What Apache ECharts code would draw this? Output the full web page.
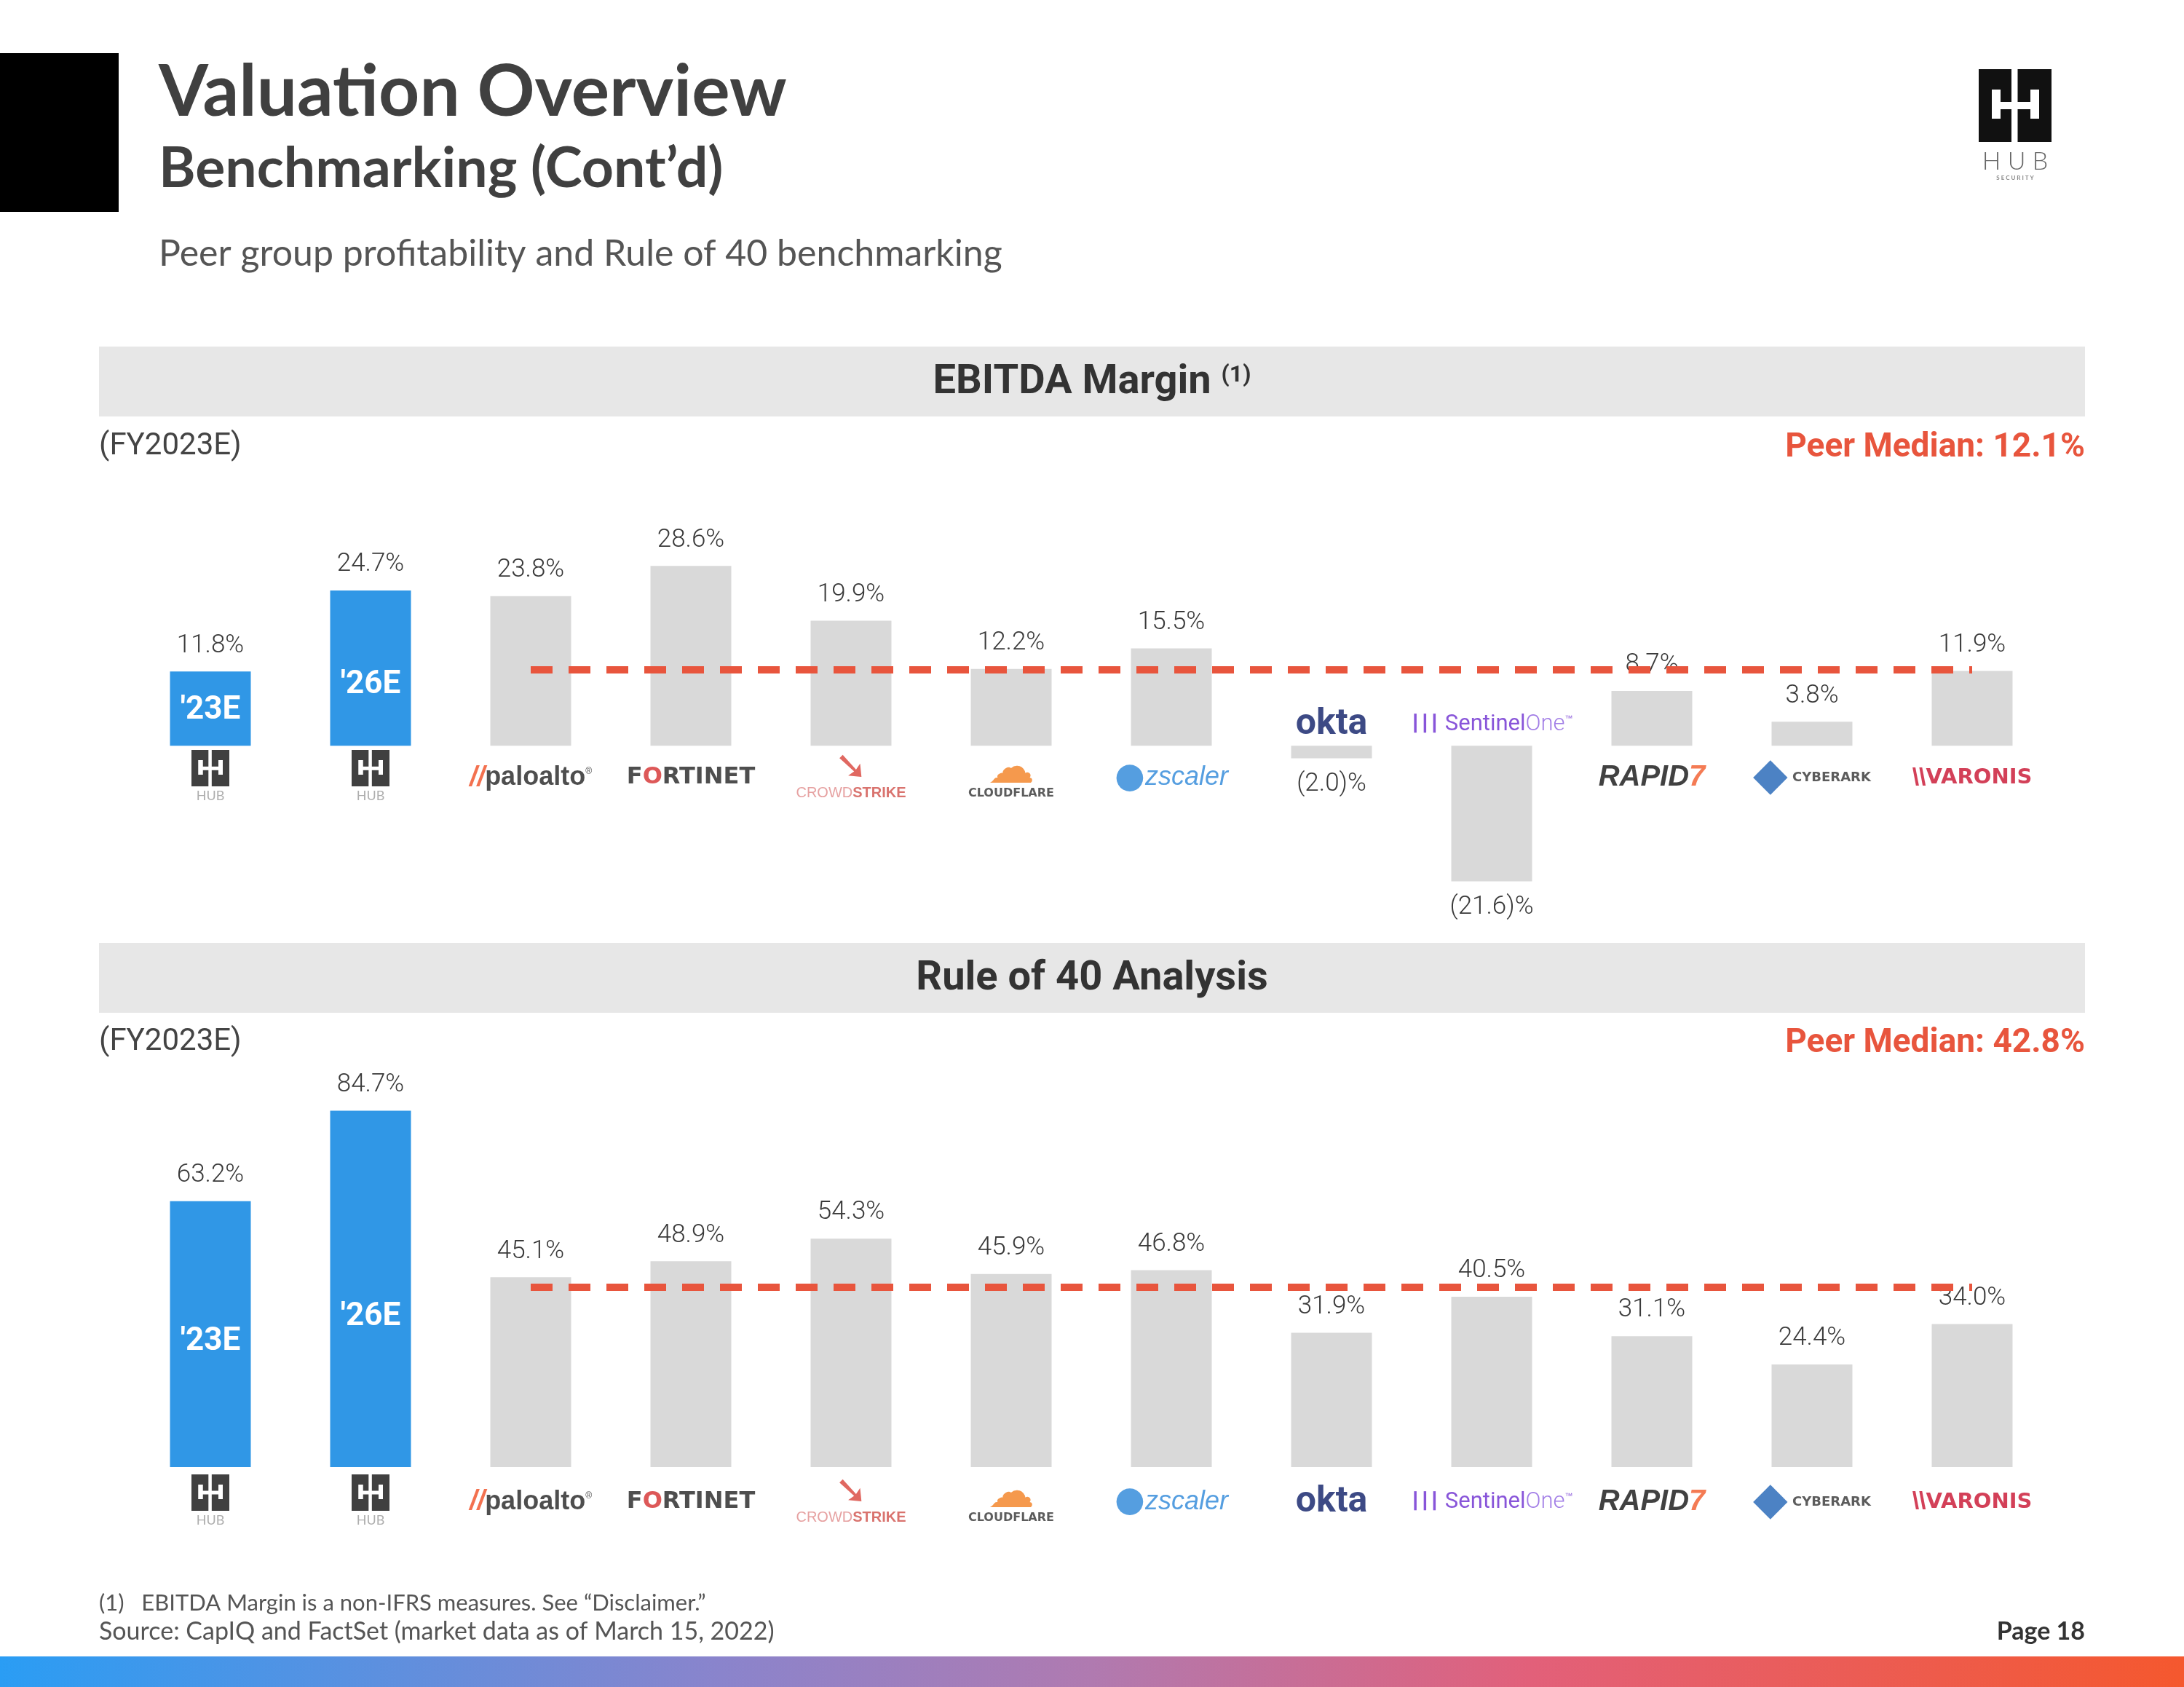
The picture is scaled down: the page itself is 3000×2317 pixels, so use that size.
<!DOCTYPE html>
<html><head><meta charset="utf-8">
<script src="https://cdn.jsdelivr.net/npm/echarts/dist/echarts.min.js"></script>
<style>html,body{margin:0;padding:0;background:#fff;}#chart{width:3000px;height:2317px;}</style>
</head><body><div id="chart"></div>
<script>
// ---- data ----
const categories = ['HUB 23E','HUB 26E','Palo Alto Networks','Fortinet','CrowdStrike','Cloudflare','Zscaler','Okta','SentinelOne','Rapid7','CyberArk','Varonis'];
const ebitdaMargin = [11.8, 24.7, 23.8, 28.6, 19.9, 12.2, 15.5, -2.0, -21.6, 8.7, 3.8, 11.9];
const ruleOf40 = [63.2, 84.7, 45.1, 48.9, 54.3, 45.9, 46.8, 31.9, 40.5, 31.1, 24.4, 34.0];
const ebitdaPeerMedian = 12.1;
const ruleOf40PeerMedian = 42.8;
const hubPeriodTags = ["'23E", "'26E"];
const hubCount = 2;
const peerFirstIndex = 2;

// ---- helpers ----
function hubLogoCanvas(s) {
  const c = document.createElement('canvas');
  c.width = s; c.height = s;
  const g = c.getContext('2d');
  g.fillStyle = '#111'; g.fillRect(0, 0, s, s);
  g.fillStyle = '#fff';
  g.fillRect(s * 0.45, 0, s * 0.085, s);
  g.fillRect(s * 0.18, s * 0.28, s * 0.12, s * 0.40);
  g.fillRect(s * 0.71, s * 0.28, s * 0.12, s * 0.40);
  g.fillRect(s * 0.18, s * 0.45, s * 0.65, s * 0.10);
  return c;
}
const hubSmall = hubLogoCanvas(100);
const hubBig = hubLogoCanvas(200);

const NARROW = 'Roboto, "Liberation Sans", sans-serif';
const GEO = 'Lato, "Open Sans", sans-serif';

const logoMarkup = {
  'HUB 23E': '{hubImg|}\n{hubTxt|HUB}',
  'HUB 26E': '{hubImg|}\n{hubTxt|HUB}',
  'Palo Alto Networks': '{paIcon|//}{pa|paloalto}{reg|®}',
  'Fortinet': '{ft|F}{ftO|O}{ft|RTINET}',
  'CrowdStrike': '{csIcon|➘}\n{csA|CROWD}{csB|STRIKE}',
  'Cloudflare': '{cfIcon|☁}\n{cf|CLOUDFLARE}',
  'Zscaler': '{zsIcon|●}{zs|zscaler}',
  'Okta': '{okta|okta}',
  'SentinelOne': '{s1Icon|┃┃┃}{s1| Sentinel}{s1b|One}{tm|™}',
  'Rapid7': '{r7|RAPID}{r7n|7}',
  'CyberArk': '{caIcon|◆}{ca| CYBERARK}',
  'Varonis': '{vaIcon|\\\\}{va|VARONIS}'
};
const logoRich = {
  hubImg: { backgroundColor: { image: hubSmall }, width: 52, height: 50, align: 'center' },
  hubTxt: { fontSize: 18, color: '#999', fontFamily: GEO, lineHeight: 26, align: 'center' },
  paIcon: { fontSize: 38, color: '#f04e23', fontWeight: 'bold', fontStyle: 'italic', fontFamily: 'Liberation Sans' },
  pa: { fontSize: 36, color: '#222', fontWeight: 'bold', fontFamily: 'Liberation Sans' },
  reg: { fontSize: 12, color: '#222', padding: [0, 0, 16, 0] },
  ft: { fontSize: 32, color: '#222', fontWeight: 'bold', fontFamily: '"DejaVu Sans"' },
  ftO: { fontSize: 32, color: '#d42e2e', fontWeight: 'bold', fontFamily: '"DejaVu Sans"' },
  csIcon: { fontSize: 54, color: '#d8423a', align: 'center', lineHeight: 42, fontFamily: '"DejaVu Sans"' },
  csA: { fontSize: 20, color: '#e08a8a', fontFamily: 'Liberation Sans', lineHeight: 24 },
  csB: { fontSize: 20, color: '#d0504a', fontWeight: 'bold', fontFamily: 'Liberation Sans', lineHeight: 24 },
  cfIcon: { fontSize: 64, color: '#f38020', align: 'center', lineHeight: 44, fontFamily: '"DejaVu Sans"' },
  cf: { fontSize: 16, color: '#333', fontWeight: 'bold', fontFamily: '"DejaVu Sans"', lineHeight: 20 },
  zsIcon: { fontSize: 48, color: '#2a86d8', fontFamily: '"DejaVu Sans"' },
  zs: { fontSize: 36, color: '#2a86d8', fontStyle: 'italic', fontFamily: 'Liberation Sans' },
  okta: { fontSize: 50, color: '#0d1d66', fontWeight: 'bold', fontFamily: 'Roboto' },
  s1Icon: { fontSize: 22, color: '#6a2bd0', fontWeight: 'bold', fontFamily: '"DejaVu Sans Mono"' },
  s1: { fontSize: 31, color: '#6a2bd0', fontFamily: 'Roboto' },
  s1b: { fontSize: 31, color: '#8a5ce0', fontFamily: 'Roboto', fontWeight: 300 },
  tm: { fontSize: 11, color: '#6a2bd0', padding: [0, 0, 16, 0] },
  r7: { fontSize: 40, color: '#111', fontWeight: 'bold', fontStyle: 'italic', fontFamily: 'Liberation Sans' },
  r7n: { fontSize: 40, color: '#f15a29', fontWeight: 'bold', fontStyle: 'italic', fontFamily: 'Liberation Sans' },
  caIcon: { fontSize: 62, color: '#1f63b5', fontFamily: '"DejaVu Sans"' },
  ca: { fontSize: 18, color: '#333', fontWeight: 'bold', fontFamily: '"DejaVu Sans"' },
  vaIcon: { fontSize: 34, color: '#c8102e', fontWeight: 'bold', fontFamily: 'Liberation Sans' },
  va: { fontSize: 29, color: '#c8102e', fontWeight: 'bold', fontFamily: '"DejaVu Sans"' }
};

function pctText(v) {
  return v < 0 ? '(' + Math.abs(v).toFixed(1) + ')%' : v.toFixed(1) + '%';
}
const BLUE = '#3097e6', GRAY = '#d9d9d9', RED = '#e8553d';

function buildSeries(values, median, gridIdx, logoDownY, logoUpY, tagPos) {
  const main = {
    type: 'bar', xAxisIndex: gridIdx, yAxisIndex: gridIdx, barWidth: 111, z: 2,
    data: values.map((v, i) => ({
      value: v,
      itemStyle: { color: i < hubCount ? BLUE : GRAY },
      label: { position: v < 0 ? 'bottom' : 'top' }
    })),
    label: {
      show: true, distance: 18, formatter: p => pctText(p.value),
      fontFamily: NARROW, fontWeight: 300, fontSize: 35, color: '#3a3a3a'
    },
    markLine: {
      silent: true, symbol: ['none', 'none'], label: { show: false }, z: 5,
      lineStyle: { color: RED, width: 10, type: [30, 22], opacity: 1 },
      data: [[{ coord: [peerFirstIndex, median] }, { coord: [categories.length - 1, median] }]]
    }
  };
  const tags = {
    type: 'bar', xAxisIndex: gridIdx, yAxisIndex: gridIdx, barWidth: 111, barGap: '-100%', z: 3,
    itemStyle: { color: 'rgba(0,0,0,0)' },
    data: values.map((v, i) => i < hubCount ? { value: v, label: { position: tagPos[i] } } : '-'),
    label: {
      show: true, align: 'center', verticalAlign: 'middle',
      formatter: p => hubPeriodTags[p.dataIndex],
      fontFamily: NARROW, fontWeight: 'bold', fontSize: 44, color: '#fff'
    }
  };
  const logos = {
    type: 'scatter', xAxisIndex: gridIdx, yAxisIndex: gridIdx, symbolSize: 0, z: 6, silent: true,
    data: values.map((v, i) => ({
      value: 0,
      label: { offset: [0, v < 0 ? logoUpY : logoDownY] }
    })),
    label: {
      show: true, position: 'inside',
      formatter: p => logoMarkup[categories[p.dataIndex]],
      rich: logoRich
    }
  };
  return [main, tags, logos];
}

const chart = echarts.init(document.getElementById('chart'), null, { renderer: 'canvas' });

const option = {
  backgroundColor: '#ffffff',
  animation: false,
  grid: [
    { left: 179, width: 2640, top: 679, height: 604 },
    { left: 179, width: 2640, top: 1437, height: 578 }
  ],
  xAxis: [
    { type: 'category', gridIndex: 0, data: categories, show: false },
    { type: 'category', gridIndex: 1, data: categories, show: false }
  ],
  yAxis: [
    { type: 'value', gridIndex: 0, min: -30, max: 40, interval: 10, show: false },
    { type: 'value', gridIndex: 1, min: 0, max: 100, interval: 10, show: false }
  ],
  series: [
    ...buildSeries(ebitdaMargin, ebitdaPeerMedian, 0, 44, -29, [['50%', '53%'], ['50%', '61%']]),
    ...buildSeries(ruleOf40, ruleOf40PeerMedian, 1, 48, -29, [['50%', '53%'], ['50%', '58%']])
  ],
  graphic: [
    { type: 'rect', left: 0, top: 73, shape: { width: 163, height: 218 }, style: { fill: '#000' } },
    { type: 'text', left: 218, top: 78, style: { text: 'Valuation Overview', font: 'bold 98px ' + GEO, fill: '#404040' } },
    { type: 'text', left: 218, top: 194, style: { text: 'Benchmarking (Cont\u2019d)', font: 'bold 77px ' + GEO, fill: '#404040' } },
    { type: 'text', left: 218, top: 324, style: { text: 'Peer group profitability and Rule of 40 benchmarking', font: '50px ' + GEO, fill: '#555' } },
    // top-right logo
    { type: 'image', left: 2718, top: 95, style: { image: hubBig, width: 100, height: 100 } },
    { type: 'text', x: 2768, y: 222, style: { text: 'H U B', font: '300 34px ' + GEO, fill: '#666', textAlign: 'center', textVerticalAlign: 'middle' } },
    { type: 'text', x: 2768, y: 244, style: { text: 'S E C U R I T Y', font: 'bold 8px ' + GEO, fill: '#888', textAlign: 'center', textVerticalAlign: 'middle' } },
    // section 1
    { type: 'rect', left: 136, top: 476, shape: { width: 2728, height: 96 }, style: { fill: '#e7e7e7' } },
    { type: 'text', x: 1500, y: 526, style: {
        text: '{t|EBITDA Margin }{s|(1)}', textAlign: 'center', textVerticalAlign: 'middle',
        rich: { t: { font: 'bold 56px ' + NARROW, fill: '#333' }, s: { font: 'bold 32px ' + NARROW, fill: '#333', padding: [0, 0, 20, 0] } } } },
    { type: 'text', left: 136, top: 592, style: { text: '(FY2023E)', font: '42px ' + NARROW, fill: '#444' } },
    { type: 'text', right: 136, top: 592, style: { text: 'Peer Median: ' + ebitdaPeerMedian.toFixed(1) + '%', font: 'bold 46px ' + NARROW, fill: RED } },
    // section 2
    { type: 'rect', left: 136, top: 1295, shape: { width: 2728, height: 96 }, style: { fill: '#e7e7e7' } },
    { type: 'text', x: 1500, y: 1345, style: { text: 'Rule of 40 Analysis', textAlign: 'center', textVerticalAlign: 'middle', font: 'bold 56px ' + NARROW, fill: '#333' } },
    { type: 'text', left: 136, top: 1410, style: { text: '(FY2023E)', font: '42px ' + NARROW, fill: '#444' } },
    { type: 'text', right: 136, top: 1410, style: { text: 'Peer Median: ' + ruleOf40PeerMedian.toFixed(1) + '%', font: 'bold 46px ' + NARROW, fill: RED } },
    // footer
    { type: 'text', left: 136, top: 2186, style: { text: '(1)   EBITDA Margin is a non-IFRS measures. See \u201cDisclaimer.\u201d', font: '31px ' + GEO, fill: '#555' } },
    { type: 'text', left: 136, top: 2224, style: { text: 'Source: CapIQ and FactSet (market data as of March 15, 2022)', font: '34px ' + GEO, fill: '#555' } },
    { type: 'text', right: 136, top: 2224, style: { text: 'Page 18', font: 'bold 34px ' + GEO, fill: '#333' } },
    { type: 'rect', left: 0, top: 2275, shape: { width: 3000, height: 42 }, style: {
        fill: new echarts.graphic.LinearGradient(0, 0, 1, 0, [
          { offset: 0, color: '#2a9df4' },
          { offset: 0.33, color: '#8a84cc' },
          { offset: 0.5, color: '#b07ab0' },
          { offset: 0.7, color: '#e2607a' },
          { offset: 1, color: '#f5582e' }
        ]) } }
  ]
};
chart.setOption(option);
</script>
</body></html>
